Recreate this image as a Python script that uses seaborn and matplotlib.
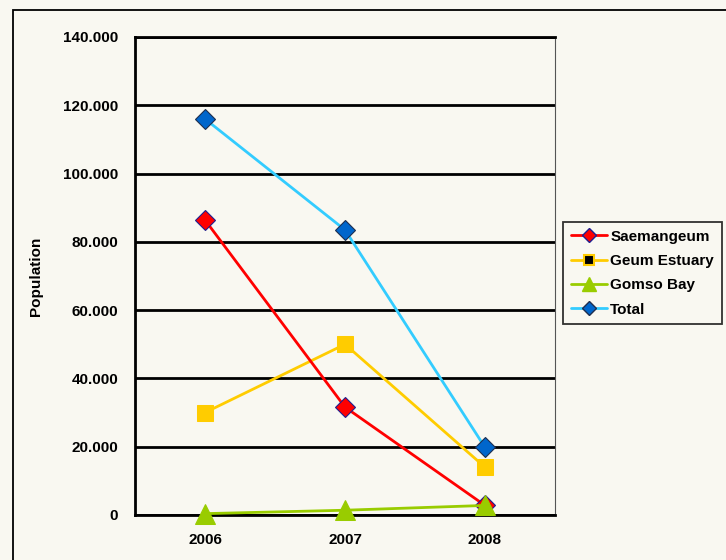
import matplotlib
matplotlib.use("Agg")
import matplotlib.pyplot as plt
import matplotlib.ticker as mticker
from matplotlib.lines import Line2D
from matplotlib.patches import Rectangle
import seaborn as sns

# data
years = [2006, 2007, 2008]
saemangeum = [86400, 31600, 2800]
geum_estuary = [30000, 50000, 14000]
gomso_bay = [400, 1400, 2800]
total = [116000, 83500, 19800]
series_names = ["Saemangeum", "Geum Estuary", "Gomso Bay", "Total"]

BG = "#F9F8F1"


def dot_thousands(v, pos):
    if v == 0:
        return "0"
    return "{:,.0f}".format(v).replace(",", ".")


def main():
    sns.set_style("white")
    plt.rcParams["font.family"] = ["Liberation Sans", "DejaVu Sans"]
    plt.rcParams["font.weight"] = "bold"
    plt.rcParams["text.color"] = "black"
    plt.rcParams["xtick.color"] = "black"
    plt.rcParams["ytick.color"] = "black"
    plt.rcParams["axes.labelcolor"] = "black"

    fig = plt.figure(figsize=(7.26, 5.6), dpi=100, facecolor=BG)
    ax = fig.add_axes([135 / 726, 45 / 560, 420 / 726, 478 / 560])
    ax.set_facecolor(BG)

    # outer chart frame (runs past right/bottom edge like the source image)
    fig.patches.append(Rectangle((13 / 726, -0.1), 1.2, (550 / 560) + 0.1,
                                 transform=fig.transFigure, fill=False,
                                 edgecolor="black", linewidth=1.3))

    lw = 2.0
    sns.lineplot(x=years, y=saemangeum, ax=ax, color="#FF0000", linewidth=lw,
                 marker="D", markersize=10, markerfacecolor="#FF0000",
                 markeredgecolor="#1F1F8F", markeredgewidth=0.8, zorder=4)
    sns.lineplot(x=years, y=geum_estuary, ax=ax, color="#FFCC00", linewidth=lw,
                 marker="s", markersize=12, markerfacecolor="#FFCC00",
                 markeredgecolor="#FFCC00", zorder=3)
    sns.lineplot(x=years, y=gomso_bay, ax=ax, color="#99CC00", linewidth=lw,
                 marker="^", markersize=15, markerfacecolor="#99CC00",
                 markeredgecolor="#99CC00", zorder=5, clip_on=False)
    sns.lineplot(x=years, y=total, ax=ax, color="#33CCFF", linewidth=lw,
                 marker="D", markersize=10, markerfacecolor="#0066CC",
                 markeredgecolor="#1F2F4F", markeredgewidth=0.8, zorder=4)

    ax.set_xlim(2005.5, 2008.5)
    ax.set_ylim(0, 140000)
    ax.yaxis.set_major_locator(mticker.MultipleLocator(20000))
    ax.yaxis.set_major_formatter(mticker.FuncFormatter(dot_thousands))
    ax.set_xticks(years)
    ax.set_xticklabels([str(y) for y in years])
    ax.set_xticks([2005.5, 2006.5, 2007.5, 2008.5], minor=True)
    ax.tick_params(axis="x", which="major", length=0, pad=13, labelsize=11)
    ax.tick_params(axis="x", which="minor", direction="inout", length=11,
                   width=1.8, color="black")
    ax.tick_params(axis="y", which="major", direction="out", length=5,
                   width=1.8, color="black", labelsize=11, pad=7)
    for lab in ax.get_xticklabels() + ax.get_yticklabels():
        lab.set_fontweight("bold")

    ax.grid(axis="y", color="black", linewidth=2.0, zorder=1)
    ax.set_axisbelow(True)
    ax.set(xlabel=None)
    ax.set_ylabel("Population", fontsize=11, fontweight="bold", labelpad=0)
    ax.yaxis.set_label_coords(-0.22, 0.5)

    for side in ["left", "bottom", "top"]:
        ax.spines[side].set_visible(True)
        ax.spines[side].set_color("black")
        ax.spines[side].set_linewidth(2.0)
    ax.spines["right"].set_visible(True)
    ax.spines["right"].set_color("#555555")
    ax.spines["right"].set_linewidth(0.8)

    handles = [
        Line2D([], [], color="#FF0000", linewidth=lw, marker="D", markersize=7,
               markerfacecolor="#FF0000", markeredgecolor="#1F1F8F"),
        Line2D([], [], color="#FFCC00", linewidth=lw, marker="s", markersize=7,
               markerfacecolor="black", markeredgecolor="#FFCC00", markeredgewidth=1.5),
        Line2D([], [], color="#99CC00", linewidth=lw, marker="^", markersize=10,
               markerfacecolor="#99CC00", markeredgecolor="#99CC00"),
        Line2D([], [], color="#33CCFF", linewidth=lw, marker="D", markersize=7,
               markerfacecolor="#0066CC", markeredgecolor="#1F2F4F"),
    ]
    leg = fig.legend(handles, series_names, loc="upper left",
                     bbox_to_anchor=(563 / 726, (560 - 222) / 560),
                     frameon=True, fancybox=False, facecolor=BG, edgecolor="black",
                     prop={"size": 11, "weight": "bold"}, handlelength=2.4,
                     handletextpad=0.2, labelspacing=0.68, borderpad=0.5,
                     borderaxespad=0)
    leg.get_frame().set_linewidth(1.3)

    plt.savefig("out.png", dpi=100, facecolor=BG)


main()
